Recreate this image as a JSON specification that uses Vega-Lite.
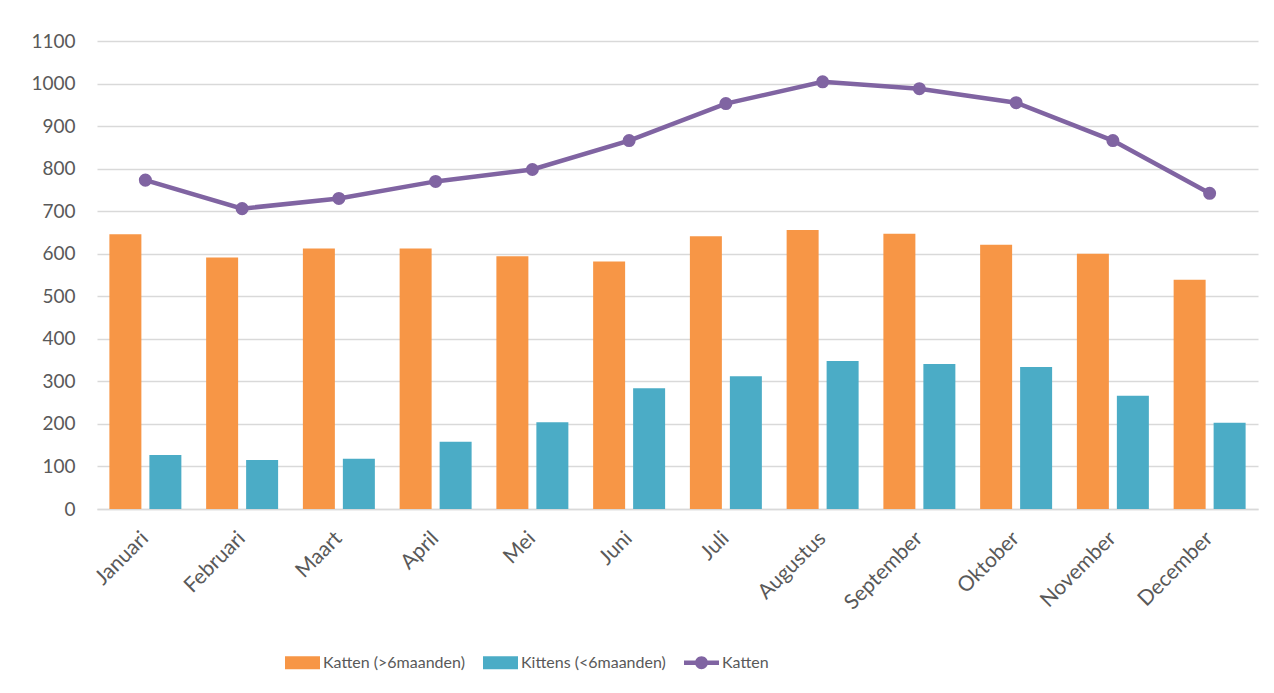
{
  "$schema": "https://vega.github.io/schema/vega-lite/v6.json",
  "width": 1161,
  "height": 468,
  "autosize": {"type": "none"},
  "padding": {"left": 97, "top": 41, "right": 16, "bottom": 184},
  "background": "white",
  "config": {
    "view": {"stroke": null},
    "font": "Lato",
    "axis": {"labelFont": "Lato", "labelColor": "#595959", "labelFontSize": 19},
    "legend": {"labelFont": "Lato", "labelColor": "#595959", "labelFontSize": 16}
  },
  "data": {
    "values": [
      {"maand": "Januari", "reeks": "Katten (>6maanden)", "aantal": 646},
      {"maand": "Januari", "reeks": "Kittens (<6maanden)", "aantal": 127},
      {"maand": "Januari", "reeks": "Katten", "aantal": 773},
      {"maand": "Februari", "reeks": "Katten (>6maanden)", "aantal": 591},
      {"maand": "Februari", "reeks": "Kittens (<6maanden)", "aantal": 115},
      {"maand": "Februari", "reeks": "Katten", "aantal": 706},
      {"maand": "Maart", "reeks": "Katten (>6maanden)", "aantal": 612},
      {"maand": "Maart", "reeks": "Kittens (<6maanden)", "aantal": 118},
      {"maand": "Maart", "reeks": "Katten", "aantal": 730},
      {"maand": "April", "reeks": "Katten (>6maanden)", "aantal": 612},
      {"maand": "April", "reeks": "Kittens (<6maanden)", "aantal": 158},
      {"maand": "April", "reeks": "Katten", "aantal": 770},
      {"maand": "Mei", "reeks": "Katten (>6maanden)", "aantal": 594},
      {"maand": "Mei", "reeks": "Kittens (<6maanden)", "aantal": 204},
      {"maand": "Mei", "reeks": "Katten", "aantal": 798},
      {"maand": "Juni", "reeks": "Katten (>6maanden)", "aantal": 582},
      {"maand": "Juni", "reeks": "Kittens (<6maanden)", "aantal": 284},
      {"maand": "Juni", "reeks": "Katten", "aantal": 866},
      {"maand": "Juli", "reeks": "Katten (>6maanden)", "aantal": 641},
      {"maand": "Juli", "reeks": "Kittens (<6maanden)", "aantal": 312},
      {"maand": "Juli", "reeks": "Katten", "aantal": 953},
      {"maand": "Augustus", "reeks": "Katten (>6maanden)", "aantal": 656},
      {"maand": "Augustus", "reeks": "Kittens (<6maanden)", "aantal": 348},
      {"maand": "Augustus", "reeks": "Katten", "aantal": 1004},
      {"maand": "September", "reeks": "Katten (>6maanden)", "aantal": 647},
      {"maand": "September", "reeks": "Kittens (<6maanden)", "aantal": 341},
      {"maand": "September", "reeks": "Katten", "aantal": 988},
      {"maand": "Oktober", "reeks": "Katten (>6maanden)", "aantal": 621},
      {"maand": "Oktober", "reeks": "Kittens (<6maanden)", "aantal": 334},
      {"maand": "Oktober", "reeks": "Katten", "aantal": 955},
      {"maand": "November", "reeks": "Katten (>6maanden)", "aantal": 600},
      {"maand": "November", "reeks": "Kittens (<6maanden)", "aantal": 266},
      {"maand": "November", "reeks": "Katten", "aantal": 866},
      {"maand": "December", "reeks": "Katten (>6maanden)", "aantal": 539},
      {"maand": "December", "reeks": "Kittens (<6maanden)", "aantal": 203},
      {"maand": "December", "reeks": "Katten", "aantal": 742}
    ]
  },
  "encoding": {
    "x": {
      "field": "maand",
      "type": "nominal",
      "sort": ["Januari", "Februari", "Maart", "April", "Mei", "Juni", "Juli", "Augustus", "September", "Oktober", "November", "December"],
      "scale": {"paddingInner": 0.256, "paddingOuter": 0.128},
      "axis": {
        "title": null,
        "labelAngle": -45,
        "labelAlign": "right",
        "labelBaseline": "middle",
        "labelPadding": 26,
        "labelFontSize": 21,
        "ticks": false,
        "grid": false,
        "domain": true,
        "domainColor": "#D9D9D9",
        "domainWidth": 1.5
      }
    },
    "y": {
      "field": "aantal",
      "type": "quantitative",
      "scale": {"domain": [0, 1100], "nice": false},
      "axis": {
        "title": null,
        "format": "d",
        "values": [0, 100, 200, 300, 400, 500, 600, 700, 800, 900, 1000, 1100],
        "domain": false,
        "ticks": false,
        "grid": true,
        "gridColor": "#D9D9D9",
        "gridWidth": 1.5,
        "labelPadding": 22
      }
    },
    "color": {
      "field": "reeks",
      "type": "nominal",
      "scale": {
        "domain": ["Katten (>6maanden)", "Kittens (<6maanden)", "Katten"],
        "range": ["#F79646", "#4BACC6", "#8064A2"]
      },
      "legend": {
        "title": null,
        "orient": "none",
        "direction": "horizontal",
        "legendX": 188,
        "legendY": 604,
        "padding": 0,
        "symbolSize": 1225,
        "labelOffset": 3,
        "columnPadding": 18,
        "symbolStrokeWidth": 0,
        "encode": {
          "symbols": {
            "update": {
              "shape": {"signal": "datum.value === 'Katten' ? 'M-1,-0.13L1,-0.13L1,0.13L-1,0.13Z M0.37,0A0.37,0.37 0 1,1 -0.37,0A0.37,0.37 0 1,1 0.37,0Z' : 'M-1,-0.37L1,-0.37L1,0.37L-1,0.37Z'"},
              "fill": {"scale": "color", "field": "value"},
              "stroke": {"value": "transparent"},
              "opacity": {"value": 1},
              "fillOpacity": {"value": 1}
            }
          }
        }
      }
    }
  },
  "layer": [
    {
      "transform": [{"filter": "datum.reeks !== 'Katten'"}],
      "mark": {"type": "bar"},
      "encoding": {
        "xOffset": {
          "field": "reeks",
          "type": "nominal",
          "sort": ["Katten (>6maanden)", "Kittens (<6maanden)"],
          "scale": {"paddingInner": 0.2, "paddingOuter": 0}
        }
      }
    },
    {
      "transform": [{"filter": "datum.reeks === 'Katten'"}],
      "mark": {"type": "line", "strokeWidth": 4.5, "point": {"filled": true, "size": 170}},
      "encoding": {}
    }
  ]
}
